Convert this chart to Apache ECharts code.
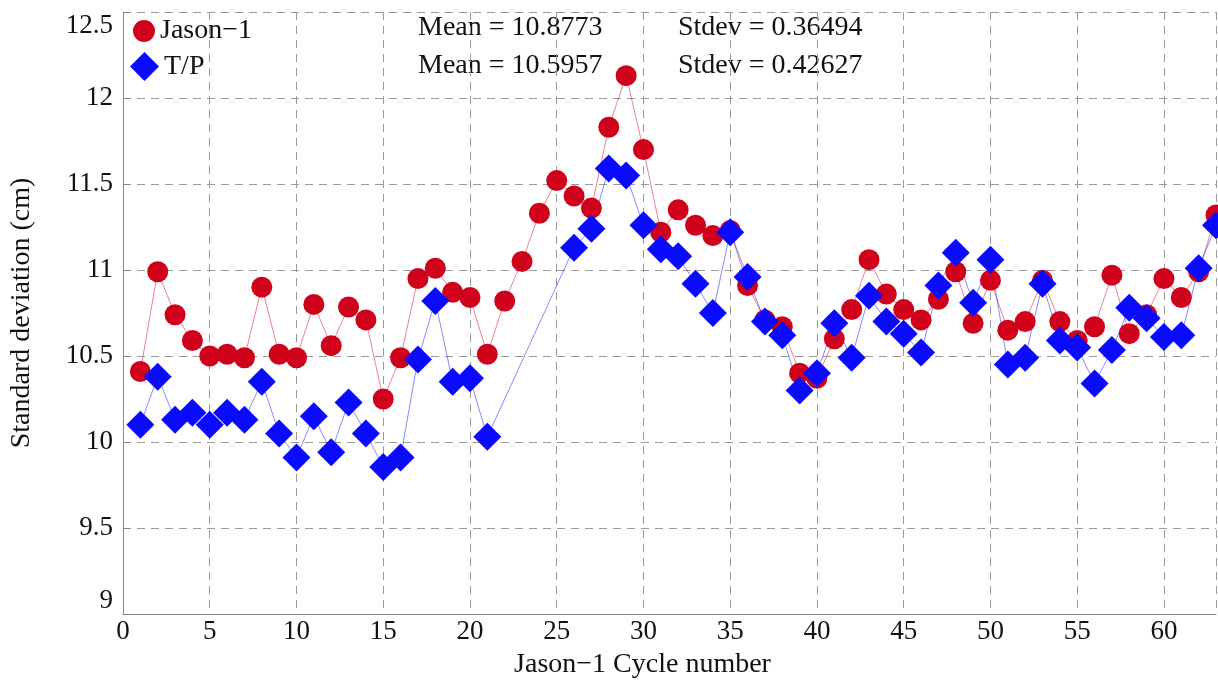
<!DOCTYPE html>
<html><head><meta charset="utf-8">
<script src="https://cdn.jsdelivr.net/npm/echarts@6/dist/echarts.min.js"></script>
<style>html,body{margin:0;padding:0;background:#fff}#c{width:1218px;height:684px}</style>
</head><body><div id="c"></div>
<script>
const cycles = [1,2,3,4,5,6,7,8,9,10,11,12,13,14,15,16,17,18,19,20,21,22,23,24,25,26,27,28,29,30,31,32,33,34,35,36,37,38,39,40,41,42,43,44,45,46,47,48,49,50,51,52,53,54,55,56,57,58,59,60,61,62,63];
const jason1 = [10.41,10.99,10.74,10.59,10.50,10.51,10.49,10.90,10.51,10.49,10.80,10.56,10.785,10.71,10.25,10.49,10.95,11.01,10.87,10.84,10.51,10.82,11.05,11.33,11.52,11.43,11.36,11.83,12.13,11.70,11.22,11.35,11.26,11.20,11.23,10.91,10.71,10.67,10.40,10.37,10.60,10.77,11.06,10.86,10.77,10.71,10.83,10.99,10.69,10.94,10.65,10.70,10.94,10.70,10.59,10.67,10.97,10.63,10.74,10.95,10.84,10.99,11.32];
const tp = [10.10,10.38,10.13,10.17,10.10,10.17,10.13,10.35,10.05,9.91,10.15,9.94,10.23,10.05,9.855,9.91,10.48,10.82,10.35,10.37,10.03,null,null,null,null,11.13,11.24,11.59,11.55,11.26,11.12,11.08,10.92,10.75,11.22,10.96,10.70,10.62,10.30,10.40,10.69,10.49,10.85,10.70,10.63,10.52,10.91,11.10,10.81,11.06,10.45,10.49,10.92,10.59,10.55,10.34,10.535,10.78,10.72,10.61,10.62,11.01,11.26];
const statsText = [["Mean = 10.8773","Stdev = 0.36494"],["Mean = 10.5957","Stdev = 0.42627"]];

const font = "Liberation Serif";
const chart = echarts.init(document.getElementById('c'), null, {renderer:'canvas'});
const pair = arr => cycles.map((c,i)=>[c, arr[i]]);
const gridDash = {type:[8,6], color:'#9a9a9a', width:1};
const txtFont = '28px "Liberation Serif"';
chart.setOption({
  animation:false,
  backgroundColor:'#fff',
  textStyle:{fontFamily:font},
  grid:{left:123, right:2, top:12, bottom:70, containLabel:false, outerBoundsMode:'none'},
  xAxis:{type:'value', min:0, max:63, interval:5,
    name:'Jason\u22121 Cycle number', nameLocation:'middle', nameGap:37,
    nameTextStyle:{fontFamily:font, fontSize:28, color:'#111', padding:[0,54,0,0]},
    axisLine:{show:true, onZero:false, lineStyle:{color:'#888', width:1}},
    axisTick:{show:false},
    axisLabel:{fontFamily:font, fontSize:27, color:'#111', margin:4, showMaxLabel:false},
    splitLine:{show:true, lineStyle:gridDash}},
  yAxis:{type:'value', min:9, max:12.5, interval:0.5,
    name:'Standard deviation (cm)', nameLocation:'middle', nameGap:87,
    nameTextStyle:{fontFamily:font, fontSize:28, color:'#111'},
    axisLine:{show:true, lineStyle:{color:'#888', width:1}},
    axisTick:{show:true, inside:true, length:7, lineStyle:{color:'#888'}},
    axisLabel:{fontFamily:font, fontSize:27, color:'#111', margin:10,
      verticalAlignMinLabel:'bottom', verticalAlignMaxLabel:'top'},
    splitLine:{show:true, lineStyle:gridDash}},
  legend:[
    {left:128, top:12, itemWidth:22, itemHeight:22, itemGap:0, itemTextGap:6,
      textStyle:{fontFamily:font, fontSize:28, color:'#111'},
      data:[{name:'Jason\u22121', icon:'circle'}]},
    {left:125, top:47, itemWidth:29, itemHeight:29, itemGap:0, itemTextGap:5,
      textStyle:{fontFamily:font, fontSize:28, color:'#111'},
      data:[{name:'T/P', icon:'diamond'}]}
  ],
  graphic:[
    {type:'text', x:418, y:28, style:{text:statsText[0][0], font:txtFont, fill:'#111', verticalAlign:'middle'}},
    {type:'text', x:678, y:28, style:{text:statsText[0][1], font:txtFont, fill:'#111', verticalAlign:'middle'}},
    {type:'text', x:418, y:66, style:{text:statsText[1][0], font:txtFont, fill:'#111', verticalAlign:'middle'}},
    {type:'text', x:678, y:66, style:{text:statsText[1][1], font:txtFont, fill:'#111', verticalAlign:'middle'}}
  ],
  series:[
    {name:'Jason\u22121', type:'line', data:pair(jason1), symbol:'circle', symbolSize:21,
      itemStyle:{color:'#d0021b'}, lineStyle:{color:'rgba(220,30,50,0.55)', width:1}, clip:true},
    {name:'T/P', type:'line', data:pair(tp), symbol:'diamond', symbolSize:28, connectNulls:true,
      itemStyle:{color:'#0a0aff'}, lineStyle:{color:'rgba(40,40,255,0.55)', width:1}, clip:true}
  ]
});
</script></body></html>
